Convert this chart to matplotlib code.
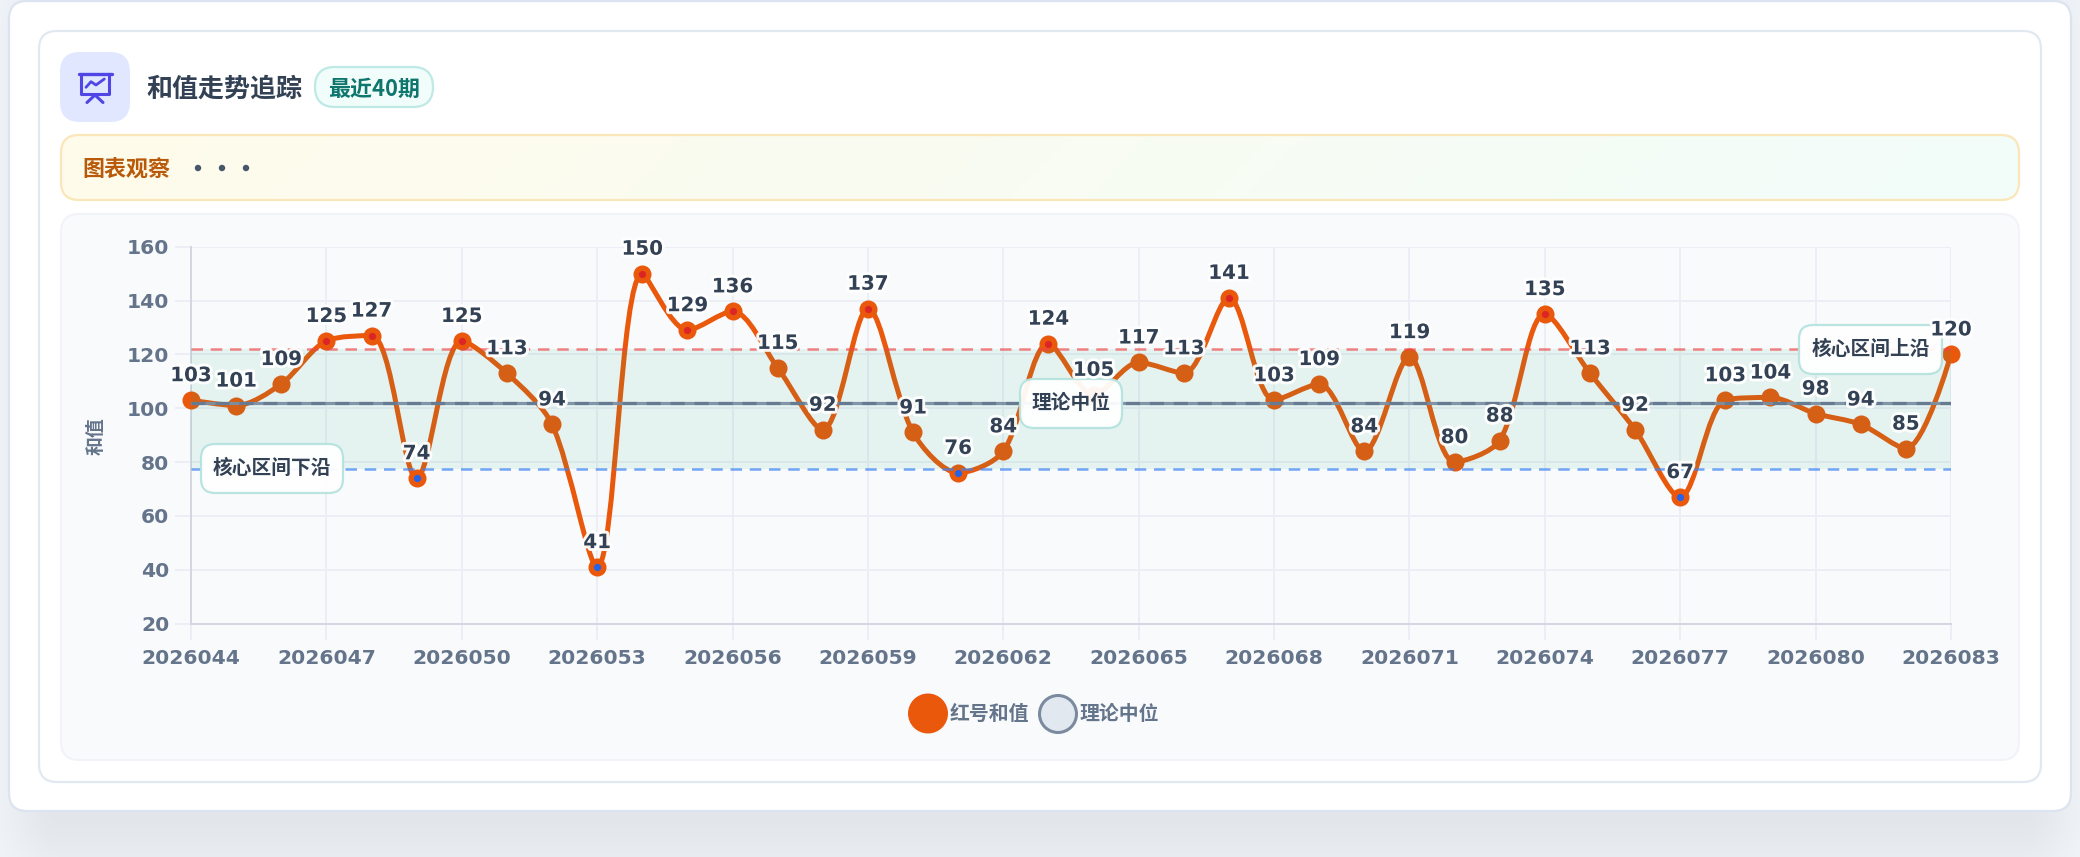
import numpy as np
import matplotlib
matplotlib.use('Agg')
import matplotlib.pyplot as plt
from matplotlib.patches import FancyBboxPatch, Circle, PathPatch
from matplotlib.path import Path
from matplotlib.colors import to_rgb
import matplotlib.patheffects as pe

plt.rcParams['font.family'] = ['DejaVu Sans', 'Noto Sans CJK SC']
CJK = ['Noto Sans CJK SC', 'DejaVu Sans']

# data
periods = [str(2026044 + i) for i in range(40)]
values = [103, 101, 109, 125, 127, 74, 125, 113, 94, 41,
          150, 129, 136, 115, 92, 137, 91, 76, 84, 124,
          105, 117, 113, 141, 103, 109, 84, 119, 80, 88,
          135, 113, 92, 67, 103, 104, 98, 94, 85, 120]
y_ticks = [20, 40, 60, 80, 100, 120, 140, 160]
band_low = 77.6
band_high = 121.9
median = 101.8

ORANGE = '#ea580c'
TXT = '#334155'
GREY = '#64748b'
W, H = 2080, 857
AX_L, AX_R, AX_T, AX_B = 191, 1951, 246.7, 623.6

fig = plt.figure(figsize=(W / 100, H / 100), dpi=100)
px = fig.add_axes([0, 0, 1, 1])
px.set_xlim(0, W)
px.set_ylim(H, 0)
px.axis('off')


def round_box(x0, y0, x1, y1, r, fc, ec='none', lw=1.44, ax=None, z=1, alpha=None):
    p = FancyBboxPatch((x0 + r, y0 + r), x1 - x0 - 2 * r, y1 - y0 - 2 * r,
                       boxstyle='round,pad=%f,rounding_size=%f' % (r, r),
                       fc=fc, ec=ec, lw=lw, zorder=z, alpha=alpha,
                       transform=px.transData, clip_on=False)
    (ax or px).add_patch(p)
    return p


# page background with the soft card shadow
yy, xx = np.mgrid[0:H, 0:W]
dx = np.maximum(np.maximum(60 - xx, xx - 2020), 0)
dy = np.maximum(np.maximum(40 - yy, yy - 805), 0)
shadow = 0.08 * np.exp(-((dx / 55.0) ** 2 + (dy / 70.0) ** 2))
bg = np.array(to_rgb('#f3f6fa'))
shadow_col = np.array(to_rgb('#1e293b'))
img = bg[None, None, :] * (1 - shadow[..., None]) + shadow_col[None, None, :] * shadow[..., None]
px.imshow(img, extent=(0, W, H, 0), aspect='auto', zorder=0)

round_box(9, 1, 2071, 811, 18, 'white', '#dbe4f0', 1.6, z=1)
round_box(39, 31, 2041, 782, 18, 'white', '#e2e8f0', 1.6, z=2)
round_box(61, 214, 2019, 760, 18, '#f9fafc', '#f1f3f8', 1.44, z=2)

# header
round_box(60, 52, 130, 122, 20, '#e0e7ff', z=3)
ic = '#4f46e5'
px.plot([78.5, 111.5], [73.5, 73.5], color=ic, lw=2.4, solid_capstyle='round', zorder=4)
px.plot([81, 81, 109, 109], [74, 94, 94, 74], color=ic, lw=2.2, zorder=4)
px.plot([87, 95, 103], [102.5, 95, 102.5], color=ic, lw=2.2, solid_capstyle='round', zorder=4)
px.plot([86, 91, 96, 104.3], [87.3, 81.7, 85, 79], color=ic, lw=2.0, solid_capstyle='round',
        solid_joinstyle='round', zorder=4)
px.text(146, 89, '和值走势追踪', family=CJK, weight='bold', fontsize=18.7, color=TXT, va='center', zorder=4)
round_box(315, 67, 433, 107, 20, '#f0fdfa', '#bfe9e4', 1.6, z=3)
px.text(374, 89, '最近40期', family=CJK, weight='bold', fontsize=15.8, color='#0f766e',
        ha='center', va='center', zorder=4)

# notice strip
note = round_box(61, 135, 2019, 200, 18, 'none', '#fae6b8', 1.6, z=4)
gx, gy = np.meshgrid(np.linspace(0, 1, 400), np.linspace(0, 1, 20))
t = np.clip(gx * 0.97 + gy * 0.03, 0, 1)[..., None]
grad = np.array(to_rgb('#fffbeb'))[None, None, :] * (1 - t) + np.array(to_rgb('#f2fdfa'))[None, None, :] * t
gim = px.imshow(grad, extent=(61, 2019, 200, 135), aspect='auto', zorder=3)
gim.set_clip_path(note)
px.set_xlim(0, W)
px.set_ylim(H, 0)
px.text(82, 170, '图表观察', family=CJK, weight='bold', fontsize=15.8, color='#b85a0a', va='center', zorder=5)
for bx in (198, 222, 246):
    px.add_patch(Circle((bx, 168), 3.2, fc='#475569', ec='none', zorder=5))

px.text(96, 436, '和值', family=CJK, weight='bold', fontsize=13.6, color=GREY, rotation=90,
        ha='center', va='center', zorder=5)

# legend
px.add_patch(Circle((928, 713.5), 20, fc=ORANGE, ec='none', zorder=5))
px.text(950, 713, '红号和值', family=CJK, weight='bold', fontsize=14.3, color=GREY, va='center', zorder=5)
px.add_patch(Circle((1058, 714), 18.5, fc='#e2e8f0', ec='#7c8aa0', lw=2.2, zorder=5))
px.text(1079, 713, '理论中位', family=CJK, weight='bold', fontsize=14.3, color=GREY, va='center', zorder=5)

# chart axes
ax = fig.add_axes([AX_L / W, 1 - AX_B / H, (AX_R - AX_L) / W, (AX_B - AX_T) / H], zorder=2)
ax.patch.set_visible(False)
idx = np.arange(len(values))
vals = np.array(values, dtype=float)
ax.set_xlim(0, len(values) - 1)
ax.set_ylim(y_ticks[0], y_ticks[-1])
ax.set_xticks(idx[::3])
ax.set_xticklabels(periods[::3])
ax.set_yticks(y_ticks)
ax.tick_params(axis='both', length=11.5, width=1.44, color='#eceef5', labelcolor=GREY, labelsize=14.6)
ax.tick_params(axis='x', pad=7)
ax.tick_params(axis='y', pad=4.2)
for lb in ax.get_xticklabels() + ax.get_yticklabels():
    lb.set_fontweight('bold')
ax.grid(True, color='#eceef5', lw=1.44, zorder=1)
ax.set_axisbelow(True)
for s in ('top', 'right'):
    ax.spines[s].set_visible(False)
for s in ('left', 'bottom'):
    ax.spines[s].set_color('#d3d7e1')
    ax.spines[s].set_linewidth(1.44)


def smooth_path(xs, ys, smooth=0.3):
    # same bezier construction as an echarts smooth line, worked out in pixel space
    sx = (AX_R - AX_L) / (len(xs) - 1)
    sy = (AX_B - AX_T) / (y_ticks[-1] - y_ticks[0])
    X = xs * sx
    Y = ys * sy
    n = len(X)
    verts = [(X[0], Y[0])]
    codes = [Path.MOVETO]
    nx, ny = X[0], Y[0]
    for i in range(1, n):
        x, y = X[i], Y[i]
        if i == n - 1:
            verts += [(nx, ny), (x, y), (x, y)]
            codes += [Path.CURVE4] * 3
            break
        px0, py0 = X[i - 1], Y[i - 1]
        nx1, ny1 = X[i + 1], Y[i + 1]
        vx, vy = nx1 - px0, ny1 - py0
        l0 = np.hypot(x - px0, y - py0)
        l1 = np.hypot(nx1 - x, ny1 - y)
        r = l1 / (l0 + l1)
        c1x = x - vx * smooth * (1 - r)
        c1y = y - vy * smooth * (1 - r)
        c2x = x + vx * smooth * r
        c2y = y + vy * smooth * r
        c2x = min(c2x, max(nx1, x)); c2y = min(c2y, max(ny1, y))
        c2x = max(c2x, min(nx1, x)); c2y = max(c2y, min(ny1, y))
        vx, vy = c2x - x, c2y - y
        c1x = x - vx * l0 / l1
        c1y = y - vy * l0 / l1
        c1x = min(c1x, max(px0, x)); c1y = min(c1y, max(py0, y))
        c1x = max(c1x, min(px0, x)); c1y = max(c1y, min(py0, y))
        vx, vy = x - c1x, y - c1y
        c2x = x + vx * l1 / l0
        c2y = y + vy * l1 / l0
        verts += [(nx, ny), (c1x, c1y), (x, y)]
        codes += [Path.CURVE4] * 3
        nx, ny = c2x, c2y
    verts = np.array(verts)
    verts[:, 0] /= sx
    verts[:, 1] /= sy
    return Path(verts, codes)


ax.add_patch(PathPatch(smooth_path(idx.astype(float), vals), fc='none', ec=ORANGE, lw=3.6,
                       capstyle='round', joinstyle='round', zorder=3, clip_on=False))
ax.plot(idx, vals, 'o', ms=13, mfc=ORANGE, mec='none', zorder=3.2, clip_on=False)
hi = vals > band_high
lo = vals < band_low
ax.plot(idx[hi], vals[hi], 'o', ms=5.2, mfc='#dc2626', mec='none', zorder=3.4, clip_on=False)
ax.plot(idx[lo], vals[lo], 'o', ms=5.2, mfc='#2563eb', mec='none', zorder=3.4, clip_on=False)

# core band and reference lines go over the series, like in the original
ax.axhspan(band_low, band_high, fc='#14a880', alpha=0.09, ec='none', zorder=4)
ax.axhline(band_high, color='#ef4444', lw=1.8, alpha=0.65, dashes=(4.6, 3.1), zorder=5)
ax.axhline(band_low, color='#3b82f6', lw=1.8, alpha=0.7, dashes=(4.6, 3.1), zorder=5)
ax.axhline(median, color='#7d8fa3', lw=2.3, alpha=0.95, zorder=5)
ax.axhline(median, color='#667a92', lw=2.3, dashes=(4.4, 3.1), zorder=5.1)

# callouts
callouts = [('核心区间下沿', 201, 444, 343, 493),
            ('理论中位', 1020, 379, 1122, 428),
            ('核心区间上沿', 1799, 325, 1942, 374)]
for name, x0, y0, x1, y1 in callouts:
    round_box(x0, y0, x1, y1, 14, 'white', '#b5e3de', 1.6, ax=ax, z=6, alpha=0.94)
    ax.text((x0 + x1) / 2, (y0 + y1) / 2, name, family=CJK, weight='bold', fontsize=14.2, color=TXT,
            ha='center', va='center', zorder=6.5, transform=px.transData)

halo = [pe.withStroke(linewidth=4.2, foreground='white', alpha=0.95)]
for i, v in zip(idx, values):
    ax.annotate(str(v), (i, v), xytext=(0, 17.6), textcoords='offset points', ha='center', va='center',
                fontsize=14.3, fontweight='bold', color=TXT, zorder=7, path_effects=halo,
                annotation_clip=False)

fig.savefig('out.png', dpi=100)
